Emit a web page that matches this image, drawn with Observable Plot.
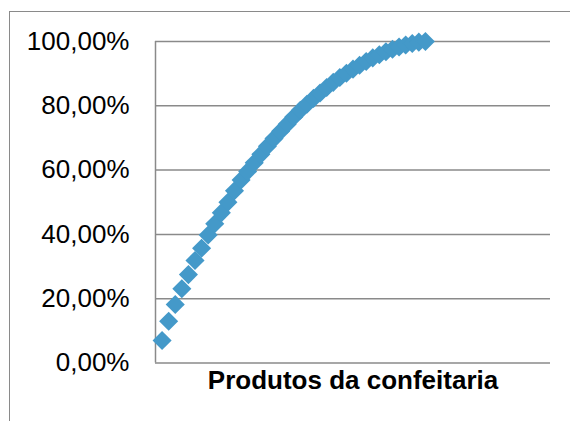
<!DOCTYPE html>
<html>
<head>
<meta charset="utf-8">
<script src="https://cdn.jsdelivr.net/npm/d3@7"></script>
<script src="https://cdn.jsdelivr.net/npm/@observablehq/plot@0.6"></script>
<style>
  html, body { margin: 0; padding: 0; background: #fff; width: 570px; height: 421px; overflow: hidden; }
  #wrap { position: relative; width: 570px; height: 421px; }
  #border { position: absolute; left: 9px; top: 11px; width: 700px; height: 600px; border: 1px solid #8a8a8a; box-sizing: border-box; }
  #chart { position: absolute; left: 0; top: 0; }
</style>
</head>
<body>
<div id="wrap">
  <div id="border"></div>
  <div id="chart"></div>
</div>
<script>
// Cumulative share of each product (Pareto curve)
const produtos = d3.range(1, 42);
const acumulado = [
  0.070, 0.130, 0.182, 0.231, 0.275, 0.319, 0.357, 0.398, 0.433, 0.467,
  0.500, 0.536, 0.569, 0.596, 0.623, 0.649, 0.674, 0.698, 0.721, 0.743,
  0.765, 0.786, 0.805, 0.823, 0.840, 0.857, 0.873, 0.888, 0.901, 0.914,
  0.926, 0.938, 0.949, 0.959, 0.968, 0.976, 0.983, 0.989, 0.994, 0.998, 1.000
];
const yTicks = [0, 0.2, 0.4, 0.6, 0.8, 1.0];
const xDomain = [0, 60];
const xTitle = "Produtos da confeitaria";

const data = produtos.map((p, i) => ({produto: p, acumulado: acumulado[i]}));
const ptBR = d3.formatLocale({decimal: ",", thousands: ".", grouping: [3], currency: ["R$", ""]});
const pct = ptBR.format(".2%");

const plot = Plot.plot({
  width: 570,
  height: 421,
  marginLeft: 155,
  marginRight: 20,
  marginTop: 41,
  marginBottom: 58.5,
  style: {fontFamily: "Arial, 'Liberation Sans', sans-serif", background: "transparent", color: "#000"},
  x: {domain: xDomain, axis: null},
  y: {domain: [0, 1]},
  marks: [
    Plot.ruleY(yTicks, {stroke: "#8a8a8a", strokeWidth: 1.5}),
    Plot.ruleX([xDomain[0]], {stroke: "#8a8a8a", strokeWidth: 1.5}),
    Plot.axisY(yTicks, {tickSize: 0, tickPadding: 26, tickFormat: pct, fontSize: 26, fill: "#000", label: null}),
    Plot.dot(data, {x: "produto", y: "acumulado", symbol: "diamond2", r: 8.6, fill: "#4499c9", stroke: "none"}),
    Plot.text([xTitle], {frameAnchor: "bottom", dy: 26, fontSize: 26, fontWeight: "bold", fill: "#000"})
  ]
});
document.getElementById("chart").appendChild(plot);
</script>
</body>
</html>
